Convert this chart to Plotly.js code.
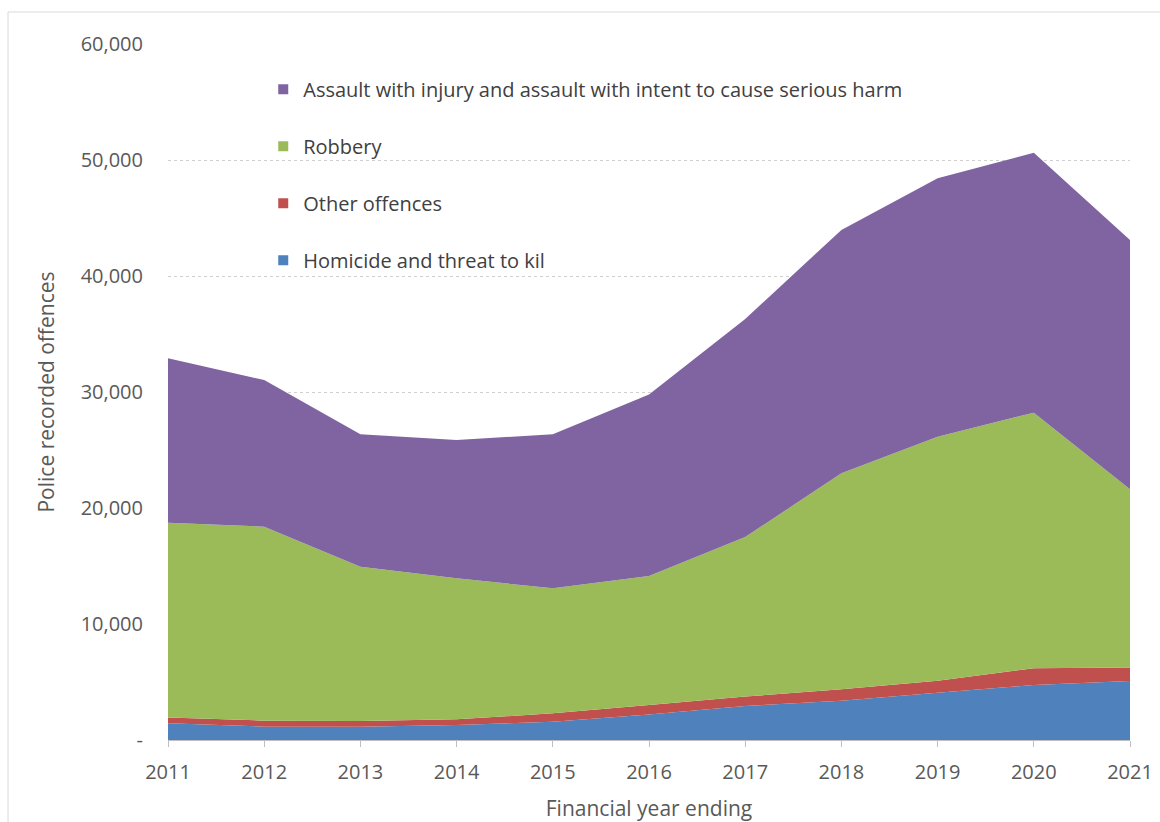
<!DOCTYPE html>
<html>
<head>
<meta charset="utf-8">
<script src="https://cdn.plot.ly/plotly-3.0.1.min.js"></script>
<style>html,body{margin:0;padding:0;background:#fff;}#chart{width:1160px;height:822px;}</style>
</head>
<body>
<div id="chart"></div>
<script>
const years = [2011, 2012, 2013, 2014, 2015, 2016, 2017, 2018, 2019, 2020, 2021];
const homicide = [1440, 1150, 1150, 1290, 1580, 2200, 2930, 3390, 4080, 4740, 5090];
const otherOffences = [510, 520, 490, 490, 720, 820, 810, 980, 1030, 1440, 1170];
const robbery = [16780, 16720, 13300, 12160, 10780, 11120, 13760, 18620, 21040, 22040, 15350];
const assault = [14170, 12640, 11410, 11920, 13270, 15640, 18800, 20980, 22270, 22410, 21490];
const seriesNames = ['Homicide and threat to kil', 'Other offences', 'Robbery', 'Assault with injury and assault with intent to cause serious harm'];
const seriesColors = ['#4F81BD', '#C0504D', '#9BBB59', '#8064A2'];
const yTickVals = [0, 10000, 20000, 30000, 40000, 50000, 60000];
const yTickText = ['-', '10,000', '20,000', '30,000', '40,000', '50,000', '60,000'];

const seriesData = [homicide, otherOffences, robbery, assault];
const traces = [];
seriesData.forEach((vals, i) => {
  traces.push({
    x: years, y: vals, type: 'scatter', mode: 'none',
    stackgroup: 'one', fillcolor: seriesColors[i],
    name: seriesNames[i], showlegend: false, hoverinfo: 'x+y+name'
  });
});
// legend entries (top to bottom: assault, robbery, other, homicide)
for (let i = seriesData.length - 1; i >= 0; i--) {
  traces.push({
    x: [null], y: [null], type: 'scatter', mode: 'markers',
    marker: {symbol: 'square', size: 10, color: seriesColors[i]},
    name: seriesNames[i], legendgroup: 'g' + i, showlegend: true
  });
}

const layout = {
  width: 1160, height: 822,
  margin: {l: 168, r: 30, t: 44, b: 82},
  paper_bgcolor: '#ffffff', plot_bgcolor: '#ffffff',
  font: {family: '"Open Sans", Lato, sans-serif', color: '#595959', size: 18},
  showlegend: true,
  legend: {
    x: 0.099, y: 0.963, xanchor: 'left', yanchor: 'top',
    bgcolor: 'rgba(0,0,0,0)', font: {size: 20, color: '#404040'},
    tracegroupgap: 28, itemwidth: 30
  },
  xaxis: {
    range: [2011, 2021], tickvals: years, ticktext: years.map(String),
    showgrid: false, zeroline: false, showline: true, linecolor: '#bfbfbf', linewidth: 1,
    ticks: 'outside', ticklen: 6, tickcolor: '#bfbfbf',
    ticklabelstandoff: 8,
    tickfont: {size: 20, color: '#595959'},
    title: {text: 'Financial year ending', font: {size: 21, color: '#595959'}, standoff: 20}
  },
  yaxis: {
    range: [0, 60000], tickvals: yTickVals, ticktext: yTickText,
    showgrid: true, gridcolor: '#d0d0d0', griddash: 'dot', gridwidth: 1,
    zeroline: false, showline: false, ticks: '',
    ticklabelstandoff: 24,
    tickfont: {size: 20, color: '#595959'},
    title: {text: 'Police recorded offences', font: {size: 21, color: '#595959'}, standoff: 20}
  },
  shapes: [{
    type: 'rect', xref: 'paper', yref: 'paper',
    x0: -0.1663, x1: 1.2, y0: -0.3, y1: 1.046,
    line: {color: '#d9d9d9', width: 1}, fillcolor: 'rgba(0,0,0,0)', layer: 'below'
  }]
};

Plotly.newPlot('chart', traces, layout, {displayModeBar: false, staticPlot: true});
</script>
</body>
</html>
